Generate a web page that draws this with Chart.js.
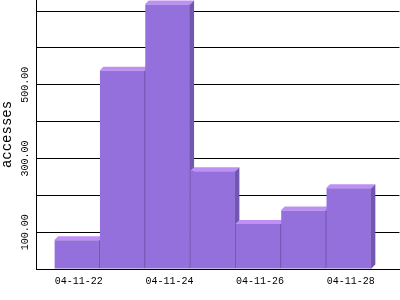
<!DOCTYPE html>
<html>
<head>
<meta charset="utf-8">
<script src="https://cdn.jsdelivr.net/npm/chart.js@4/dist/chart.umd.min.js"></script>
<style>
  body { margin: 0; background: #fff; }
</style>
</head>
<body>
<canvas id="myChart" width="400" height="300"></canvas>
<script>
// daily accesses
const dates = ['04-11-22', '04-11-23', '04-11-24', '04-11-25', '04-11-26', '04-11-27', '04-11-28'];
const accesses = [78, 538, 718, 265, 122, 159, 219];
const yLabelTicks = [100, 300, 500];
const xLabelDates = ['04-11-22', '04-11-24', '04-11-26', '04-11-28'];

const FRONT = '#9370db';
const TOP = '#bf8ff6';
const SIDE = '#7257ae';
const DEPTH = 4;

// top + side faces, drawn before the fronts so the next bar covers them
const box3d = {
  id: 'box3d',
  beforeDatasetsDraw(chart) {
    const ctx = chart.ctx;
    const bars = chart.getDatasetMeta(0).data;
    ctx.save();
    bars.forEach(bar => {
      const p = bar.getProps(['x', 'y', 'base', 'width'], true);
      const x0 = p.x - p.width / 2 - 0.5;
      const x1 = p.x + p.width / 2 + 0.5;
      const yt = p.y;
      const yb = p.base;
      ctx.fillStyle = TOP;
      ctx.beginPath();
      ctx.moveTo(x0, yt);
      ctx.lineTo(x0 + DEPTH, yt - DEPTH);
      ctx.lineTo(x1 + DEPTH, yt - DEPTH);
      ctx.lineTo(x1, yt);
      ctx.closePath();
      ctx.fill();
      ctx.fillStyle = SIDE;
      ctx.beginPath();
      ctx.moveTo(x1 - 1, yt);
      ctx.lineTo(x1, yt);
      ctx.lineTo(x1 + DEPTH, yt - DEPTH);
      ctx.lineTo(x1 + DEPTH, yb - DEPTH);
      ctx.lineTo(x1, yb);
      ctx.lineTo(x1 - 1, yb);
      ctx.closePath();
      ctx.fill();
    });
    ctx.restore();
  }
};

const points = accesses.map((v, i) => ({x: i, y: v}));

new Chart(document.getElementById('myChart'), {
  type: 'bar',
  data: {
    datasets: [{
      data: points,
      backgroundColor: FRONT,
      borderWidth: 0,
      barPercentage: 0.978,
      categoryPercentage: 1,
      inflateAmount: 0
    }]
  },
  options: {
    responsive: false,
    animation: false,
    layout: { padding: 0 },
    plugins: { legend: { display: false }, tooltip: { enabled: false } },
    scales: {
      x: {
        type: 'linear',
        offset: false,
        min: -0.9,
        max: 7.12,
        grid: { display: false, drawTicks: false, offset: false },
        border: { display: true, color: '#000', width: 1 },
        ticks: {
          stepSize: 1,
          includeBounds: false,
          autoSkip: false,
          maxRotation: 0,
          padding: 6,
          labelOffset: 2,
          color: '#000',
          font: { family: 'Liberation Mono', size: 10 },
          callback: v => {
            const d = dates[Math.round(v)];
            return (Number.isInteger(v) && xLabelDates.includes(d)) ? d : '';
          }
        },
        afterFit: s => { s.height = 31; }
      },
      y: {
        min: 0,
        max: 730,
        grid: { color: '#000', lineWidth: 1, drawTicks: false },
        border: { display: true, color: '#000', width: 1 },
        ticks: {
          stepSize: 100,
          includeBounds: false,
          autoSkip: false,
          minRotation: 90,
          maxRotation: 90,
          crossAlign: 'center',
          padding: -7,
          color: '#000',
          font: { family: 'Liberation Mono', size: 10 },
          callback: v => yLabelTicks.includes(v) ? v.toFixed(2) : ''
        },
        title: {
          display: true,
          text: 'accesses',
          color: '#000',
          padding: 0,
          font: { family: 'Liberation Mono', size: 14, lineHeight: 1 }
        },
        afterFit: s => { s.width = 36; }
      }
    }
  },
  plugins: [box3d]
});
</script>
</body>
</html>
